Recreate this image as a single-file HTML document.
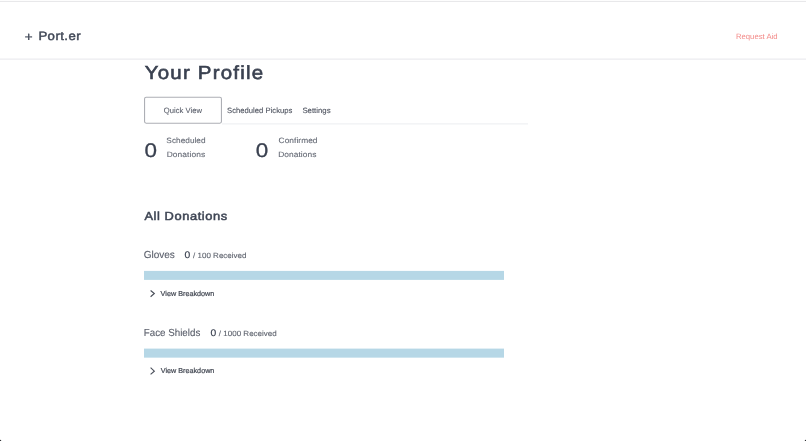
<!DOCTYPE html>
<html><head><meta charset="utf-8">
<style>
html,body{margin:0;padding:0;background:#fff;}
body{width:806px;height:441px;position:relative;overflow:hidden;font-family:"Liberation Sans",sans-serif;color:#3e4554;}
.t{position:absolute;display:block;margin:0;padding:0;font-weight:normal;text-decoration:none;white-space:nowrap;line-height:1;transform-origin:0 0;text-rendering:geometricPrecision;}
svg{position:absolute;left:0;top:0}
</style></head><body>
<svg width="806" height="441" viewBox="0 0 806 441">
<rect x="0" y="0.9" width="806" height="1" fill="#e6e6e8"/>
<rect x="0" y="58.6" width="806" height="1" fill="#e6e7ec"/>
<rect x="222" y="123.4" width="306" height="1" fill="#ecedf0"/>
<rect x="144.55" y="97.3" width="76.9" height="25.9" rx="1.6" ry="1.6" fill="#fff" stroke="#adafb5" stroke-width="1.1"/>
<rect x="144" y="270.9" width="360" height="9" fill="#b6d7e6"/>
<rect x="144" y="348.6" width="360" height="9.05" fill="#b6d7e6"/>
<path d="M150.6 290.5 L154.3 293.55 L150.6 296.7" fill="none" stroke="#4a4f5a" stroke-width="1.15"/>
<path d="M150.6 367.7 L154.3 371.15 L150.6 374.4" fill="none" stroke="#4a4f5a" stroke-width="1.15"/>
<circle cx="-0.2" cy="441.2" r="1.5" fill="#333539"/>
<circle cx="806.2" cy="441.2" r="1.5" fill="#333539"/>
</svg>

<div class="t" id="plus" style="left:0;top:0;transform:translate(24.75px,31px) scaleX(1.0800);font-size:12.4px;color:#414857;letter-spacing:0.000px;-webkit-text-stroke:0.35px #414857;">+</div>
<div class="t" id="porter" style="left:0;top:0;transform:translate(38.38px,30px) scaleX(1.0900);font-size:12.1px;color:#414857;letter-spacing:0.401px;-webkit-text-stroke:0.45px #414857;">Port.er</div>
<a class="t" id="req" style="left:0;top:0;transform:translate(735.97px,33px) scaleX(1.0050);font-size:7.7px;color:#f38a88;letter-spacing:-0.010px;">Request Aid</a>
<h1 class="t" id="title" style="left:0;top:0;transform:translate(144.68px,64px) scaleX(1.0900);font-size:18.8px;color:#3a4150;letter-spacing:1.119px;-webkit-text-stroke:0.6px #3a4150;">Your Profile</h1>
<span class="t" id="qv" style="left:0;top:0;transform:translate(163.87px,107px) scaleX(0.9900);font-size:7.7px;color:#5a5f6b;letter-spacing:0.019px;-webkit-text-stroke:0.1px #5a5f6b;">Quick View</span>
<span class="t" id="sp" style="left:0;top:0;transform:translate(227.05px,107px) scaleX(0.9964);font-size:7.7px;color:#4d525e;letter-spacing:0.013px;-webkit-text-stroke:0.1px #4d525e;">Scheduled Pickups</span>
<span class="t" id="st" style="left:0;top:0;transform:translate(302.40px,107px) scaleX(1.0134);font-size:7.7px;color:#4d525e;letter-spacing:0.008px;-webkit-text-stroke:0.1px #4d525e;">Settings</span>
<div class="t" id="z1" style="left:0;top:0;transform:translate(144.39px,142px) scaleX(1.1400);font-size:19.7px;color:#3a4150;letter-spacing:0.000px;-webkit-text-stroke:0.3px #3a4150;">0</div>
<div class="t" id="sc" style="left:0;top:0;transform:translate(166.37px,137px) scaleX(1.0716);font-size:7.7px;color:#656a75;letter-spacing:0.028px;-webkit-text-stroke:0.1px #656a75;">Scheduled</div>
<div class="t" id="d1" style="left:0;top:0;transform:translate(166.73px,151px) scaleX(1.0900);font-size:7.7px;color:#656a75;letter-spacing:0.076px;-webkit-text-stroke:0.1px #656a75;">Donations</div>
<div class="t" id="z2" style="left:0;top:0;transform:translate(255.80px,142px) scaleX(1.1400);font-size:19.7px;color:#3a4150;letter-spacing:0.000px;-webkit-text-stroke:0.3px #3a4150;">0</div>
<div class="t" id="cf" style="left:0;top:0;transform:translate(278.59px,137px) scaleX(1.0900);font-size:7.7px;color:#656a75;letter-spacing:0.030px;-webkit-text-stroke:0.1px #656a75;">Confirmed</div>
<div class="t" id="d2" style="left:0;top:0;transform:translate(278.16px,151px) scaleX(1.0900);font-size:7.7px;color:#656a75;letter-spacing:0.059px;-webkit-text-stroke:0.1px #656a75;">Donations</div>
<h2 class="t" id="all" style="left:0;top:0;transform:translate(144.44px,211px) scaleX(1.0900);font-size:11.8px;color:#3e4554;letter-spacing:0.528px;-webkit-text-stroke:0.5px #3e4554;">All Donations</h2>
<div class="t" id="gl" style="left:0;top:0;transform:translate(143.75px,251px) scaleX(0.9841);font-size:10.2px;color:#595e6a;letter-spacing:-0.029px;-webkit-text-stroke:0.1px #595e6a;">Gloves</div>
<div class="t" id="g0" style="left:0;top:0;transform:translate(184.47px,251px) scaleX(1.0750);font-size:9.6px;color:#3a4150;letter-spacing:0.000px;-webkit-text-stroke:0.15px #3a4150;">0</div>
<div class="t" id="g100" style="left:0;top:0;transform:translate(192.98px,252px) scaleX(1.0508);font-size:7.6px;color:#5d626d;letter-spacing:0.023px;-webkit-text-stroke:0.1px #5d626d;">/ 100 Received</div>
<div class="t" id="vb1" style="left:0;top:0;transform:translate(160.61px,290px) scaleX(1.0028);font-size:7.2px;color:#454a55;letter-spacing:0.012px;-webkit-text-stroke:0.22px #454a55;">View Breakdown</div>
<div class="t" id="fa" style="left:0;top:0;transform:translate(143.76px,329px) scaleX(0.9574);font-size:10.2px;color:#595e6a;letter-spacing:0.011px;-webkit-text-stroke:0.1px #595e6a;">Face Shields</div>
<div class="t" id="f0" style="left:0;top:0;transform:translate(210.47px,329px) scaleX(1.0750);font-size:9.6px;color:#3a4150;letter-spacing:0.000px;-webkit-text-stroke:0.15px #3a4150;">0</div>
<div class="t" id="f1000" style="left:0;top:0;transform:translate(218.80px,330px) scaleX(1.0516);font-size:7.6px;color:#5d626d;letter-spacing:0.017px;-webkit-text-stroke:0.1px #5d626d;">/ 1000 Received</div>
<div class="t" id="vb2" style="left:0;top:0;transform:translate(160.71px,367px) scaleX(1.0023);font-size:7.2px;color:#454a55;letter-spacing:0.011px;-webkit-text-stroke:0.22px #454a55;">View Breakdown</div>
</body></html>
